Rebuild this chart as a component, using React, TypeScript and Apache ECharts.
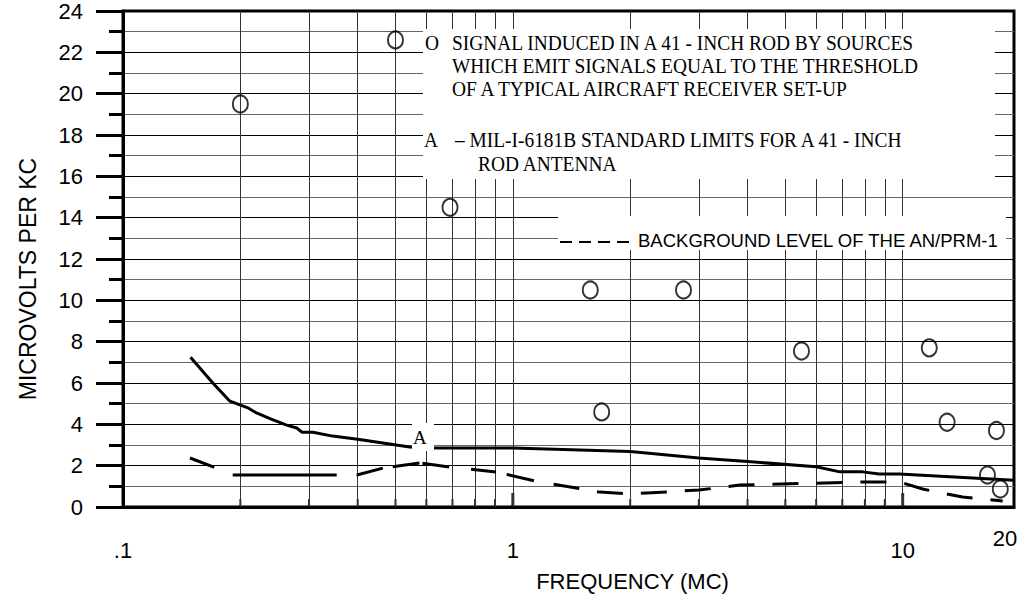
import React, { useEffect, useRef } from "react";
import * as echarts from "echarts";

// ---- data ----
const xTickLabels: [number, string][] = [
  [0.1, ".1"],
  [1, "1"],
  [10, "10"],
];
const xEndLabel = "20";
const xGridValues = [0.2, 0.3, 0.4, 0.5, 0.6, 0.7, 0.8, 0.9, 1, 2, 3, 4, 5, 6, 7, 8, 9, 10];
const xMinorTicks = [0.2, 0.3, 0.4, 0.5, 0.6, 0.7, 0.8, 0.9, 2, 3, 4, 5, 6, 7, 8, 9];
const xMajorTicks = [1, 10];

// O – signal induced in a 41-inch rod by sources at receiver threshold
const thresholdSignals: [number, number][] = [
  [0.2, 19.5],
  [0.5, 22.6],
  [0.69, 14.5],
  [1.58, 10.5],
  [2.74, 10.5],
  [1.69, 4.6],
  [5.5, 7.55],
  [11.7, 7.7],
  [13.0, 4.1],
  [17.4, 3.7],
  [16.5, 1.55],
  [17.8, 0.87],
];

// A – MIL-I-6181B standard limits (solid)
const milStandard: [number, number][] = [
  [0.149, 7.25],
  [0.17, 6.0],
  [0.188, 5.12],
  [0.21, 4.78],
  [0.22, 4.55],
  [0.24, 4.25],
  [0.263, 3.96],
  [0.279, 3.82],
  [0.288, 3.62],
  [0.307, 3.62],
  [0.345, 3.43],
  [0.4, 3.28],
  [0.464, 3.1],
  [0.544, 2.9],
  [0.62, 2.85],
  [1.0, 2.85],
  [2.0, 2.68],
  [3.0, 2.37],
  [4.0, 2.2],
  [6.0, 1.95],
  [6.9, 1.7],
  [7.9, 1.7],
  [8.7, 1.6],
  [9.8, 1.6],
  [19.3, 1.3],
];

// Background level of the AN/PRM-1 (dashed)
const backgroundLevel: [number, number][] = [
  [0.1485, 2.37],
  [0.171, 1.93],
  [0.191, 1.55],
  [0.398, 1.55],
  [0.464, 1.88],
  [0.578, 2.13],
  [0.69, 1.93],
  [0.91, 1.69],
  [1.14, 1.26],
  [1.67, 0.72],
  [2.0, 0.63],
  [3.0, 0.82],
  [3.82, 1.06],
  [7.85, 1.21],
  [9.82, 1.21],
  [11.25, 0.87],
  [14.25, 0.48],
  [18.05, 0.29],
];

const legendO = [
  "SIGNAL INDUCED IN A 41 - INCH ROD BY SOURCES",
  "WHICH EMIT SIGNALS EQUAL TO THE THRESHOLD",
  "OF A TYPICAL AIRCRAFT RECEIVER SET-UP",
];
const legendA = ["– MIL-I-6181B STANDARD LIMITS FOR A 41 - INCH", "ROD ANTENNA"];
const legendBg = "BACKGROUND LEVEL OF THE AN/PRM-1";

const SANS = "'Liberation Sans', Arial, Helvetica, sans-serif";
const SERIF = "'Liberation Serif', 'Times New Roman', serif";

const dashPattern = [
  26, 20, 104, 20, 27, 10, 27, 3, 27, 22, 25, 11, 28, 20, 26, 18, 26, 18, 26, 18, 26, 18, 26,
  18, 26, 18, 26, 18, 26, 18, 26, 18, 26, 18, 26, 18, 26, 18,
];

function serifText(text: string, x: number, y: number, size = 20, scaleX = 0.97) {
  return {
    type: "text",
    x,
    y,
    scaleX,
    z: 101,
    style: {
      text,
      fontFamily: SERIF,
      fontSize: size,
      fill: "#000",
      textAlign: "left",
      textVerticalAlign: "middle",
      align: "left",
      verticalAlign: "middle",
    },
  };
}

export default function App() {
  const ref = useRef<HTMLDivElement>(null);

  useEffect(() => {
    document.body.style.margin = "0";
    const chart = echarts.init(ref.current!, null, { renderer: "svg" });

    const option: any = {
      animation: false,
      backgroundColor: "#fff",
      grid: {
        left: 123,
        right: 9,
        top: 10,
        bottom: 97,
        show: true,
        borderColor: "#000",
        borderWidth: 3,
        backgroundColor: "transparent",
      },
      xAxis: {
        type: "log",
        logBase: 10,
        min: 0.1,
        max: 19.3,
        axisLine: { show: true, lineStyle: { color: "#000", width: 3 } },
        axisTick: { show: false },
        minorTick: { show: false },
        splitLine: { show: false },
        minorSplitLine: { show: false },
        axisLabel: {
          fontSize: 22,
          color: "#000",
          fontFamily: SANS,
          margin: 32,
          showMaxLabel: false,
          formatter: (v: number) => {
            const hit = xTickLabels.find(
              ([t]) => Math.abs(Math.log10(v) - Math.log10(t)) < 0.01
            );
            return hit ? hit[1] : "";
          },
        },
        name: "FREQUENCY (MC)",
        nameLocation: "middle",
        nameGap: 63,
        nameTextStyle: {
          fontSize: 22,
          color: "#000",
          fontFamily: SANS,
          padding: [0, 0, 0, 128],
        },
      },
      yAxis: {
        type: "value",
        min: 0,
        max: 24,
        interval: 2,
        axisLine: { show: true, lineStyle: { color: "#000", width: 3 } },
        axisTick: { show: true, length: 27, lineStyle: { color: "#000", width: 3 } },
        minorTick: { show: true, splitNumber: 2, length: 14, lineStyle: { color: "#000", width: 3 } },
        splitLine: { show: true, lineStyle: { color: "#000", width: 1 } },
        minorSplitLine: { show: true, lineStyle: { color: "#666", width: 1 } },
        axisLabel: { fontSize: 22, color: "#000", fontFamily: SANS, margin: 40 },
        name: "MICROVOLTS PER KC",
        nameLocation: "middle",
        nameGap: 84,
        nameRotate: 90,
        nameTextStyle: { fontSize: 23, color: "#000", fontFamily: SANS, padding: [0, 40, 0, 0] },
      },
      series: [
        {
          name: "minor ticks",
          type: "scatter",
          data: xMinorTicks.map((v) => [v, 0]),
          symbol: "rect",
          symbolSize: [2, 8],
          symbolOffset: [0, -4],
          itemStyle: { color: "#000" },
          clip: false,
          silent: true,
          z: 3,
          markLine: {
            silent: true,
            symbol: ["none", "none"],
            label: { show: false },
            lineStyle: { color: "#333", width: 1, type: "solid" },
            data: xGridValues.map((v) => ({ xAxis: v })),
          },
        },
        {
          name: "major ticks",
          type: "scatter",
          data: xMajorTicks.map((v) => [v, 0]),
          symbol: "rect",
          symbolSize: [3, 14],
          symbolOffset: [0, -7],
          itemStyle: { color: "#000" },
          clip: false,
          silent: true,
          z: 3,
        },
        {
          name: "MIL-I-6181B",
          type: "line",
          data: milStandard,
          showSymbol: false,
          symbol: "none",
          lineStyle: { color: "#000", width: 3 },
          z: 5,
        },
        {
          name: "Background",
          type: "line",
          data: backgroundLevel,
          showSymbol: false,
          symbol: "none",
          lineStyle: { color: "#000", width: 3, type: dashPattern },
          z: 5,
        },
        {
          name: "Threshold signals",
          type: "scatter",
          data: thresholdSignals,
          symbol: "circle",
          symbolSize: [15, 17],
          itemStyle: { color: "rgba(255,255,255,0)", borderColor: "#000", borderWidth: 2 },
          z: 6,
        },
      ],
      graphic: [
        { type: "rect", z: 100, shape: { x: 423, y: 29, width: 572, height: 150 }, style: { fill: "#fff" } },
        { type: "rect", z: 100, shape: { x: 558, y: 216, width: 448, height: 34 }, style: { fill: "#fff" } },
        { type: "rect", z: 100, shape: { x: 412, y: 423, width: 22, height: 28 }, style: { fill: "#fff" } },
        serifText("O", 425, 43),
        ...legendO.map((t, i) => serifText(t, 452, 43 + i * 23)),
        serifText("A", 424, 140),
        serifText(legendA[0], 455, 140),
        serifText(legendA[1], 478, 164),
        serifText("A", 413, 437, 19, 1.0),
        {
          type: "line",
          z: 101,
          shape: { x1: 560, y1: 242, x2: 630, y2: 242 },
          style: { stroke: "#000", lineWidth: 2, lineDash: [12, 7] },
        },
        {
          type: "text",
          x: 638,
          y: 240,
          z: 101,
          style: {
            text: legendBg,
            fontFamily: SANS,
            fontSize: 18.5,
            fill: "#000",
            textAlign: "left",
            textVerticalAlign: "middle",
            align: "left",
            verticalAlign: "middle",
          },
        },
        {
          type: "text",
          x: 1005,
          y: 538,
          z: 101,
          style: {
            text: xEndLabel,
            fontFamily: SANS,
            fontSize: 22,
            fill: "#000",
            textAlign: "center",
            textVerticalAlign: "middle",
            align: "center",
            verticalAlign: "middle",
          },
        },
      ],
    };

    chart.setOption(option);
    return () => chart.dispose();
  }, []);

  return <div ref={ref} style={{ width: 1023, height: 604 }} />;
}
